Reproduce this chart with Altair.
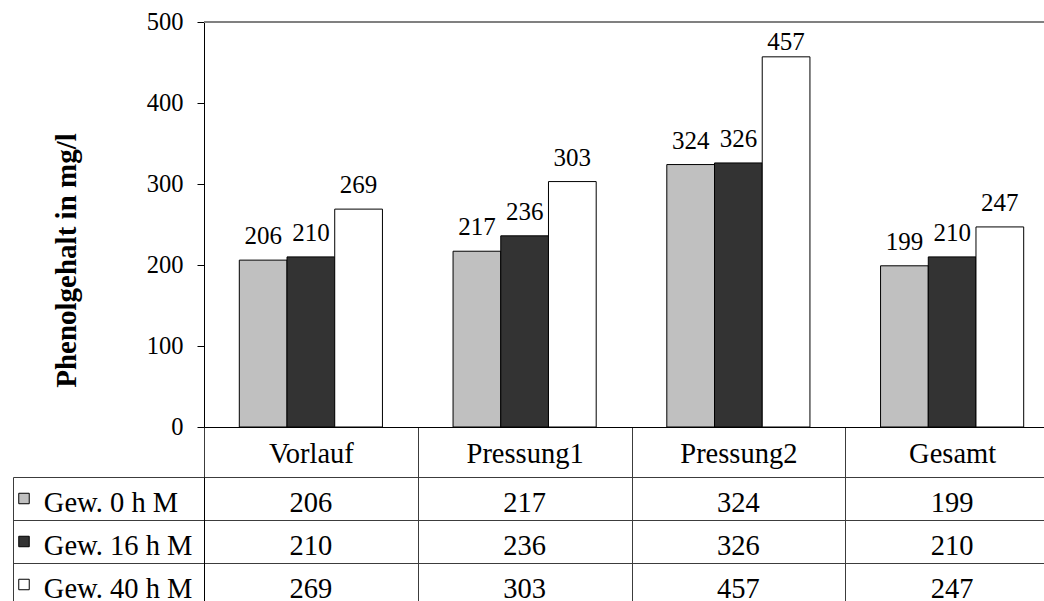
import altair as alt
import pandas as pd

# Phenol content per processing stage and maceration time
categories = ["Vorlauf", "Pressung1", "Pressung2", "Gesamt"]
series = ["Gew. 0 h M", "Gew. 16 h M", "Gew. 40 h M"]
gew_0h = [206, 217, 324, 199]
gew_16h = [210, 236, 326, 210]
gew_40h = [269, 303, 457, 247]
bar_colors = ["#c0c0c0", "#333333", "#ffffff"]

records = []
for name, values in zip(series, [gew_0h, gew_16h, gew_40h]):
    for cat, val in zip(categories, values):
        records.append({"Kategorie": cat, "Reihe": name, "Wert": val})
df = pd.DataFrame(records)
legend_df = pd.DataFrame({"Reihe": series})
top_df = pd.DataFrame({"oben": [500]})

FONT = "Liberation Serif"
PLOT_W, PLOT_H = 840, 405
CAT_SPAN = 855          # four category columns; the last one runs past the page edge
HEAD_H = 50             # header row holding the category names
ROW_H = 43              # data table rows
LABEL_COL = 191         # width of the series-name column left of the plot
LINE = "#3c3c3c"

x_scale = alt.Scale(domain=categories, range=[0, CAT_SPAN], paddingInner=0, paddingOuter=0)
off_scale = alt.Scale(domain=series, paddingInner=0, paddingOuter=0.74)
fill_scale = alt.Scale(domain=series, range=bar_colors)
y_scale = alt.Scale(domain=[0, 500])
row_scale = alt.Scale(domain=series,
                      range=[PLOT_H + HEAD_H, PLOT_H + HEAD_H + 3 * ROW_H],
                      paddingInner=0, paddingOuter=0)

# category axis: baseline of the plot, column separators and the header row names
x_axis = alt.Axis(
    title=None, orient="bottom", domain=True, domainColor="black", domainWidth=1,
    ticks=True, tickBand="extent", tickSize=HEAD_H + 3 * ROW_H, tickColor=LINE,
    tickWidth=1, grid=False,
    labelFont=FONT, labelFontSize=28.5, labelColor="black", labelAngle=0,
    labelAlign="center", labelBaseline="alphabetic",
    labelPadding=35 - (HEAD_H + 3 * ROW_H))
x_enc = alt.X("Kategorie:N", scale=x_scale, sort=categories, axis=x_axis)

bars = alt.Chart(df).mark_bar(stroke="black", strokeWidth=1).encode(
    x=x_enc,
    xOffset=alt.XOffset("Reihe:N", scale=off_scale, sort=series),
    y=alt.Y("Wert:Q", scale=y_scale, axis=alt.Axis(
        values=[0, 100, 200, 300, 400, 500], grid=False,
        domainColor="black", tickColor="black", tickSize=7,
        labelFont=FONT, labelFontSize=24.5, labelColor="black", labelPadding=14,
        title="Phenolgehalt in mg/l", titleFont=FONT, titleFontSize=29,
        titleFontWeight="bold", titleColor="black", titleAngle=270,
        titleAlign="center", titleBaseline="alphabetic",
        titleX=-128.5, titleY=238)),
    fill=alt.Fill("Reihe:N", scale=fill_scale, sort=series, legend=None),
)

# value labels above the bars, kept clear of the top border
bar_labels = alt.Chart(df).transform_calculate(
    anker="min(datum.Wert, 446)"
).mark_text(font=FONT, fontSize=25, color="black", baseline="alphabetic", dy=-16).encode(
    x=x_enc,
    xOffset=alt.XOffset("Reihe:N", scale=off_scale, sort=series),
    y=alt.Y("anker:Q", scale=y_scale, axis=None),
    text=alt.Text("Wert:Q"),
)

top_border = alt.Chart(top_df).mark_rule(color="#808080", strokeWidth=2).encode(
    y=alt.Y("oben:Q", scale=y_scale, axis=None),
)

# data table below the plot
table_values = alt.Chart(df).mark_text(
    font=FONT, fontSize=28.5, color="black", baseline="alphabetic", dy=13
).encode(
    x=x_enc,
    y=alt.Y("Reihe:N", scale=row_scale, sort=series, axis=alt.Axis(
        orient="left", title=None, domain=True, domainColor="black",
        ticks=True, tickBand="extent", tickSize=LABEL_COL, tickColor=LINE,
        grid=True, gridColor=LINE, gridOpacity=1, gridWidth=1,
        labelFont=FONT, labelFontSize=28.5, labelColor="black",
        labelAlign="left", labelBaseline="alphabetic", labelOffset=13,
        labelPadding=160.7 - LABEL_COL)),
    text=alt.Text("Wert:Q"),
)

swatches = alt.Chart(legend_df).mark_square(
    size=110, stroke="black", strokeWidth=1, opacity=1
).encode(
    x=alt.value(-(LABEL_COL - 11)),
    y=alt.Y("Reihe:N", scale=row_scale, sort=series, axis=alt.Axis(
        orient="left", offset=LABEL_COL, title=None, domain=True, domainColor=LINE,
        ticks=False, labels=False, grid=False)),
    fill=alt.Fill("Reihe:N", scale=fill_scale, sort=series, legend=None),
)

chart = alt.layer(
    bars, bar_labels, top_border, table_values, swatches
).resolve_scale(
    y="independent"
).resolve_axis(
    y="independent"
).properties(
    width=PLOT_W, height=PLOT_H,
    padding={"left": 204, "top": 22, "right": 0, "bottom": 174},
    autosize=alt.AutoSizeParams(type="none"),
).configure_view(stroke=None)

chart.save("out.html", embed_options={"renderer": "svg", "actions": False})
